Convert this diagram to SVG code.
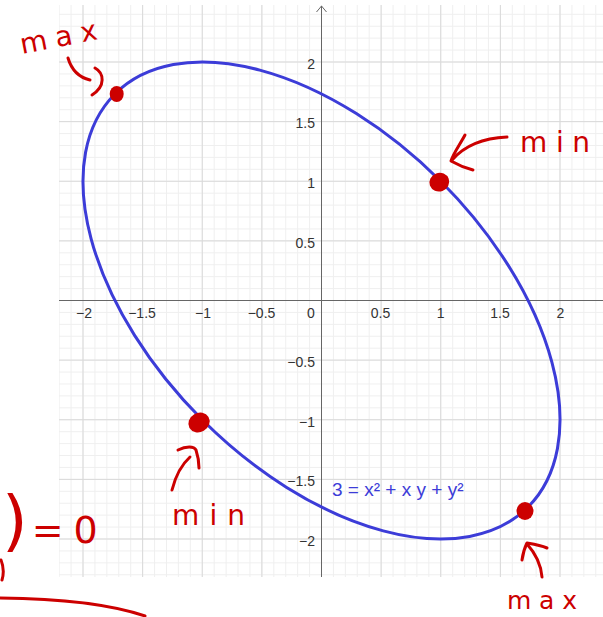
<svg xmlns="http://www.w3.org/2000/svg" width="603" height="617" viewBox="0 0 603 617">
  <defs>
    <pattern id="minor" x="321" y="300" width="11.925" height="11.925" patternUnits="userSpaceOnUse">
      <path d="M0.5,0 V11.925 M0,0.5 H11.925" stroke="#efefef" stroke-width="1" fill="none"/>
    </pattern>
    <pattern id="major" x="321" y="300" width="59.625" height="59.625" patternUnits="userSpaceOnUse">
      <path d="M0.5,0 V59.625 M0,0.5 H59.625" stroke="#d9d9d9" stroke-width="1" fill="none"/>
    </pattern>
  </defs>
  <style>
    .lbl { font-family: "Liberation Sans", Arial, sans-serif; font-size: 14px; fill: #333; }
    .xl { text-anchor: middle; }
    .yl { text-anchor: end; }
    .axis { stroke: #666; stroke-width: 1; fill: none; }
    .ink { stroke: #cc0000; stroke-width: 3; fill: none; stroke-linecap: round; stroke-linejoin: round; }
    .hand { font-family: "DejaVu Sans", "Liberation Sans", sans-serif; fill: #cc0000; }
    .dot { fill: #cc0000; }
  </style>
  <rect width="603" height="617" fill="#fff"/>
  <g id="grid">
    <rect x="59" y="5" width="544" height="572" fill="url(#minor)"/>
    <rect x="59" y="5" width="544" height="572" fill="url(#major)"/>
  </g>
  <g id="axes">
    <line class="axis" x1="59" y1="300.5" x2="603" y2="300.5"/>
    <line class="axis" x1="321.5" y1="6" x2="321.5" y2="577"/>
    <polyline class="axis" points="316.5,12 321.5,6 326.5,12"/>
  </g>
  <g id="tick-labels" class="lbl">
    <text class="xl" x="84" y="317.5">−2</text>
    <text class="xl" x="142" y="317.5">−1.5</text>
    <text class="xl" x="203" y="317.5">−1</text>
    <text class="xl" x="261.5" y="317.5">−0.5</text>
    <text class="xl" x="311" y="317.5">0</text>
    <text class="xl" x="380.5" y="317.5">0.5</text>
    <text class="xl" x="440.7" y="317.5">1</text>
    <text class="xl" x="500" y="317.5">1.5</text>
    <text class="xl" x="560.5" y="317.5">2</text>
    <text class="yl" x="315" y="69">2</text>
    <text class="yl" x="315" y="128.4">1.5</text>
    <text class="yl" x="315" y="188.2">1</text>
    <text class="yl" x="315" y="247.9">0.5</text>
    <text class="yl" x="315" y="367.1">−0.5</text>
    <text class="yl" x="315" y="426.7">−1</text>
    <text class="yl" x="315" y="486.4">−1.5</text>
    <text class="yl" x="315" y="546">−2</text>
  </g>
  <g id="curve">
    <ellipse cx="321.5" cy="300.5" rx="292.1" ry="168.65" transform="rotate(45 321.5 300.5)" fill="none" stroke="#3c3cd8" stroke-width="3"/>
    <text x="332" y="496" font-family="Liberation Sans, Arial, sans-serif" font-size="19" fill="#3c3cd8">3 = x² + x y + y²</text>
  </g>
  <g id="points">
    <ellipse class="dot" cx="116.7" cy="94" rx="7" ry="8"/>
    <ellipse class="dot" cx="439.3" cy="182.2" rx="10" ry="9.3" transform="rotate(-20 439.3 182.2)"/>
    <ellipse class="dot" cx="199" cy="422.5" rx="11" ry="9.5" transform="rotate(-30 199 422.5)"/>
    <ellipse class="dot" cx="525" cy="511" rx="8.5" ry="9"/>
  </g>
  <g id="annotations">
    <g id="max-top">
      <text class="hand" x="22" y="54" font-size="28" textLength="78" lengthAdjust="spacing" transform="rotate(-11 22 54)">max</text>
      <path class="ink" d="M68,58 C71,68 77,77 90,80"/>
      <path class="ink" d="M95,68 C104,73 106,86 92,95"/>
    </g>
    <g id="min-right">
      <text class="hand" x="520" y="152" font-size="28" textLength="70" lengthAdjust="spacing">min</text>
      <path class="ink" d="M507,137 C485,138 465,145 452,160"/>
      <path class="ink" d="M465,135 C459,146 453,154 451,161 C458,165 465,168 473,170"/>
    </g>
    <g id="min-bottom">
      <text class="hand" x="172" y="525" font-size="28" textLength="73" lengthAdjust="spacing">min</text>
      <path class="ink" d="M172,490 C175,478 180,466 190,457"/>
      <path class="ink" d="M178,450 C186,446 194,446 196,450 C198,456 199,462 199,468"/>
    </g>
    <g id="max-bottom">
      <text class="hand" x="507" y="609" font-size="25" textLength="70" lengthAdjust="spacing">max</text>
      <path class="ink" d="M542,577 C541,565 536,554 527,544"/>
      <path class="ink" d="M522,560 C523,553 525,547 527,543 C533,544 540,545 547,548"/>
    </g>
    <g id="eq-zero">
      <text class="hand" x="2" y="543"><tspan font-size="66">)</tspan><tspan font-size="38" dx="4">=</tspan><tspan font-size="38" dx="10">0</tspan></text>
      <path class="ink" d="M1,560 Q5,570 2,580"/>
      <path class="ink" d="M0,598 Q95,599 145,616"/>
    </g>
  </g>
</svg>
